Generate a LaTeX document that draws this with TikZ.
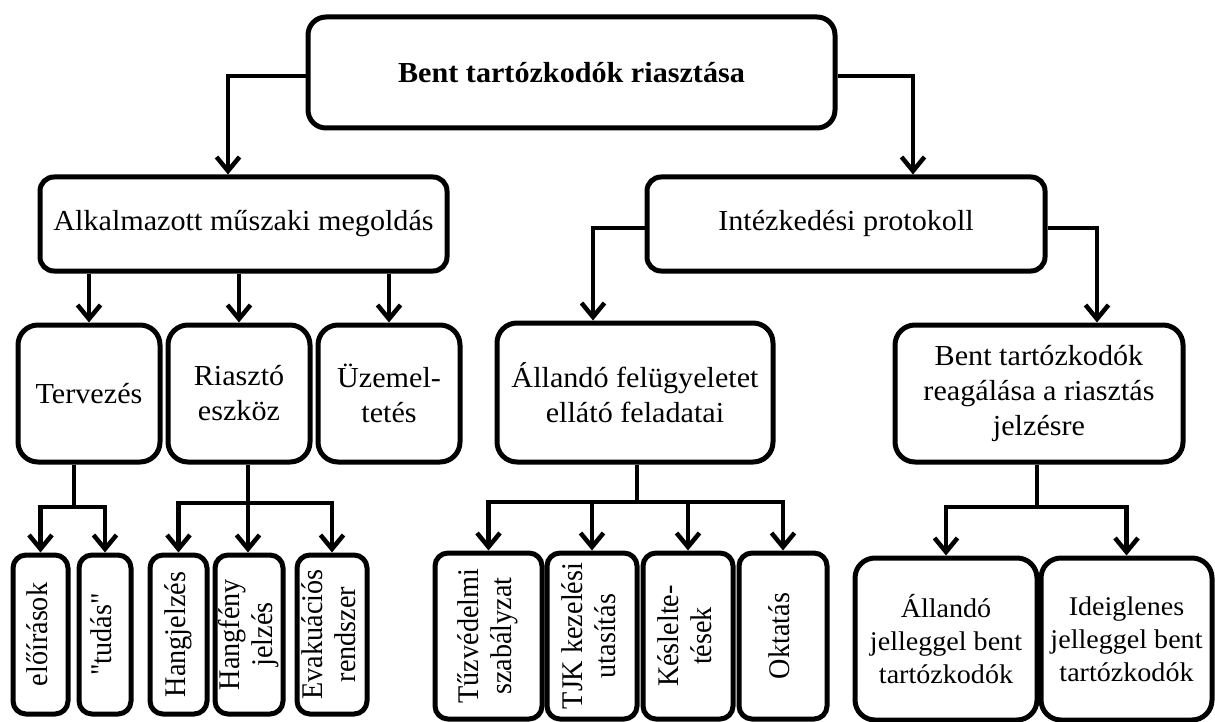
\documentclass[tikz,border=0pt]{standalone}
\usepackage{graphicx}
\usepackage{fontspec}
\setmainfont{Liberation Serif}[FakeStretch=1.04]
\newfontfamily\rotfont{Liberation Serif}[FakeStretch=0.94]
\usetikzlibrary{arrows.meta}
% vertical (rotated) label, reads bottom to top
\newcommand{\vtext}[1]{\rotatebox{90}{\rotfont\fontsize{30}{33}\selectfont\begin{tabular}{@{}c@{}}#1\end{tabular}}}
\begin{document}
\begin{tikzpicture}[x=1pt, y=-1pt,
  box/.style={draw, line width=5pt, align=center, inner sep=0pt,
    font=\fontsize{29}{35}\selectfont},
  lvl0/.style={box, rounded corners=18pt},
  lvl1/.style={box, rounded corners=14pt, minimum height=94pt},
  lvl2/.style={box, rounded corners=20pt, minimum height=137pt},
  lvl3/.style={box, rounded corners=13pt},
  line/.style={line width=4.5pt, line join=miter},
  arr/.style={line, -{Straight Barb[length=14pt, width=23pt]}}]
\useasboundingbox (0,0) rectangle (1215,722);
\fill[white] (0,0) rectangle (1215,722);

% root
\node[lvl0, minimum width=527pt, minimum height=111pt] (top) at (571.5,72.5)
  {\bfseries Bent tartózkodók riasztása};

% first level
\node[lvl1, minimum width=407pt] (alk) at (243.5,224) {Alkalmazott műszaki megoldás};
\node[lvl1, minimum width=398pt] (int) at (846,224) {Intézkedési protokoll};

% second level
\node[lvl2, minimum width=142pt] (terv) at (89,393.5) {Tervezés};
\node[lvl2, minimum width=142pt] (riaszt) at (239,393.5) {Riasztó\\eszköz};
\node[lvl2, minimum width=142pt] (uzem) at (389,393.5) {Üzemel-\\tetés};
\node[lvl2, minimum width=276pt, minimum height=139pt] (allando) at (635,392.5)
  {Állandó felügyeletet\\ellátó feladatai};
\node[lvl2, minimum width=288pt] (bent2) at (1039,393.5)
  {Bent tartózkodók\\reagálása a riasztás\\jelzésre};

% third level
\node[lvl3, minimum width=55pt, minimum height=159pt] (eloir) at (40.5,634.5) {\vtext{előírások}};
\node[lvl3, minimum width=52pt, minimum height=159pt] (tudas) at (105,634.5) {\vtext{"tudás"}};
\node[lvl3, minimum width=57pt, minimum height=159pt] (hangj) at (178.5,634.5) {\vtext{Hangjelzés}};
\node[lvl3, minimum width=68pt, minimum height=159pt] (hangf) at (249,634.5) {\vtext{Hangfény\\jelzés}};
\node[lvl3, minimum width=70pt, minimum height=159pt] (evak) at (332,634.5) {\vtext{Evakuációs\\rendszer}};

\node[lvl3, minimum width=107pt, minimum height=166pt] (tuz) at (488.5,636) {\vtext{Tűzvédelmi\\szabályzat}};
\node[lvl3, minimum width=90pt, minimum height=166pt] (tjk) at (592,636) {\vtext{TJK kezelési\\utasítás}};
\node[lvl3, minimum width=90pt, minimum height=166pt] (kesl) at (688,636) {\vtext{Késlelte-\\tések}};
\node[lvl3, minimum width=88pt, minimum height=166pt] (okt) at (783,636) {\vtext{Oktatás}};

\node[lvl3, rounded corners=20pt, minimum width=182pt, minimum height=162pt,
  font=\fontsize{27}{33}\selectfont] (all3) at (946,639)
  {Állandó\\jelleggel bent\\tartózkodók};
\node[lvl3, rounded corners=20pt, minimum width=171pt, minimum height=162pt,
  font=\fontsize{27}{33}\selectfont] (ideig) at (1126.5,639)
  {Ideiglenes\\jelleggel bent\\tartózkodók};

% root -> first level
\coordinate (jl) at (228,76);
\coordinate (jr) at (913,76);
\draw[arr] (top.west |- jl) -| (jl |- alk.north);
\draw[arr] (top.east |- jr) -| (jr |- int.north);

% Alkalmazott -> second level
\draw[arr] (alk.south -| terv.north) -- (terv.north);
\draw[arr] (alk.south -| riaszt.north) -- (riaszt.north);
\draw[arr] (alk.south -| uzem.north) -- (uzem.north);

% Intézkedési -> second level
\coordinate (jil) at (593,228);
\coordinate (jir) at (1097,228);
\draw[arr] (int.west |- jil) -| (jil |- allando.north);
\draw[arr] (int.east |- jir) -| (jir |- bent2.north);

% Tervezés -> third level
\coordinate (b1) at (74,507);
\draw[line] (terv.south -| b1) -- (b1);
\draw[arr] (b1) -| (eloir.north);
\draw[arr] (b1) -| (tudas.north);

% Riasztó eszköz -> third level
\coordinate (b2) at (248,503);
\draw[line] (riaszt.south -| b2) -- (b2);
\draw[arr] (b2) -| (hangj.north);
\draw[arr] (b2) -- (b2 |- hangf.north);
\draw[arr] (b2) -| (evak.north);

% Állandó felügyelet -> third level
\coordinate (b3) at (637,502);
\draw[line] (allando.south -| b3) -- (b3);
\draw[arr] (b3) -| (tuz.north);
\draw[arr] (b3) -| (tjk.north);
\draw[arr] (b3) -| (kesl.north);
\draw[arr] (b3) -| (okt.north);

% Bent tartózkodók reagálása -> third level
\coordinate (b4) at (1037,507);
\draw[line] (bent2.south -| b4) -- (b4);
\draw[arr] (b4) -| (all3.north);
\draw[arr] (b4) -| (ideig.north);
\end{tikzpicture}
\end{document}
